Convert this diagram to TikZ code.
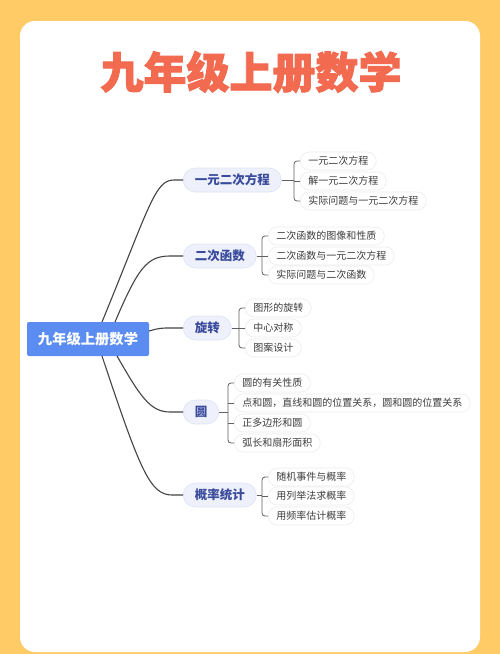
\documentclass[tikz,border=0pt]{standalone}
\usepackage{fontspec}
\newfontfamily\cjk{Noto Sans CJK SC}
\newfontfamily\cjkheavy{Noto Sans CJK SC}[BoldFeatures={FakeBold=2.2}]
\usetikzlibrary{calc}
\definecolor{bgyellow}{HTML}{FFCB66}
\definecolor{titlecoral}{HTML}{F26A4F}
\definecolor{rootblue}{HTML}{5B8CF2}
\definecolor{branchfill}{HTML}{EEF1FB}
\definecolor{branchdraw}{HTML}{DDE3F5}
\definecolor{branchtext}{HTML}{3A4A9C}
\definecolor{leaftext}{HTML}{3C3C3C}
\definecolor{leafdraw}{HTML}{ECECEC}
\definecolor{linegrey}{HTML}{444444}
\begin{document}
\begin{tikzpicture}[x=1pt,y=-1pt,
  rootbox/.style={fill=rootblue, rounded corners=2pt, text=white,
    font=\cjk\bfseries\fontsize{14.3}{16}\selectfont,
    minimum width=122pt, minimum height=34pt, inner sep=0pt},
  branchbox/.style={fill=branchfill, draw=branchdraw, line width=0.6pt,
    rounded corners=12pt, text=branchtext,
    font=\cjk\bfseries\fontsize{12.5}{14}\selectfont,
    minimum height=24pt, inner xsep=11.5pt, inner ysep=0pt, anchor=west},
  leafbox/.style={fill=white, draw=leafdraw, line width=0.6pt,
    rounded corners=9pt, text=leaftext,
    font=\cjk\fontsize{10}{12}\selectfont,
    minimum height=18pt, inner xsep=8pt, inner ysep=0pt, anchor=west},
  conn/.style={draw=linegrey, line width=1.1pt},
  brk/.style={draw=linegrey!85, line width=0.8pt},
  brkr/.style={brk, rounded corners=3pt}]
\useasboundingbox (0,0) rectangle (500,654);
\fill[bgyellow] (0,0) rectangle (500,654);
\fill[white] (20,21) [rounded corners=15pt] rectangle (480,652);

\node[font=\cjkheavy\bfseries\fontsize{43}{48}\selectfont, text=titlecoral] (title) at (251,72) {九年级上册数学};

\node[rootbox] (root) at (88,339) {九年级上册数学};

% branches
\node[branchbox] (b1) at (183,180) {一元二次方程};
\node[branchbox] (b2) at (183,256) {二次函数};
\node[branchbox] (b3) at (183,328) {旋转};
\node[branchbox] (b4) at (183,412) {圆};
\node[branchbox] (b5) at (183,495) {概率统计};

% root connectors
\coordinate (r1) at (102,322);
\coordinate (r2) at (115,322);
\coordinate (r3) at (149,331);
\coordinate (r4) at (117,356);
\coordinate (r5) at (102,356);
\draw[conn] (r1) .. controls (150,205) and (155,180) .. (174,180) -- (b1.west);
\draw[conn] (r2) .. controls (138,268) and (147,256) .. (170,256) -- (b2.west);
\draw[conn] (r3) .. controls (160,328) .. (172,328) -- (b3.west);
\draw[conn] (r4) .. controls (140,396) and (150,412) .. (170,412) -- (b4.west);
\draw[conn] (r5) .. controls (140,470) and (150,495) .. (172,495) -- (b5.west);

% leaves branch 1
\node[leafbox] (l11) at (300,161) {一元二次方程};
\node[leafbox] (l12) at (300,181) {解一元二次方程};
\node[leafbox] (l13) at (300,201) {实际问题与一元二次方程};
\coordinate (k1) at (294,180);
\draw[brk] (b1.east) -- (k1);
\draw[brkr] (l11.west) -- (l11.west -| k1) -- (l13.west -| k1) -- (l13.west);
\draw[brk] (l12.west -| k1) -- (l12.west);

% leaves branch 2
\node[leafbox] (l21) at (268,236) {二次函数的图像和性质};
\node[leafbox] (l22) at (268,256) {二次函数与一元二次方程};
\node[leafbox] (l23) at (268,275) {实际问题与二次函数};
\coordinate (k2) at (262,256);
\draw[brk] (b2.east) -- (k2);
\draw[brkr] (l21.west) -- (l21.west -| k2) -- (l23.west -| k2) -- (l23.west);
\draw[brk] (l22.west -| k2) -- (l22.west);

% leaves branch 3
\node[leafbox] (l31) at (245,308) {图形的旋转};
\node[leafbox] (l32) at (245,328) {中心对称};
\node[leafbox] (l33) at (245,348) {图案设计};
\coordinate (k3) at (239,328);
\draw[brk] (b3.east) -- (k3);
\draw[brkr] (l31.west) -- (l31.west -| k3) -- (l33.west -| k3) -- (l33.west);
\draw[brk] (l32.west -| k3) -- (l32.west);

% leaves branch 4
\node[leafbox] (l41) at (234,383) {圆的有关性质};
\node[leafbox] (l42) at (234,403) {点和圆，直线和圆的位置关系，圆和圆的位置关系};
\node[leafbox] (l43) at (234,423) {正多边形和圆};
\node[leafbox] (l44) at (234,443) {弧长和扇形面积};
\coordinate (k4) at (228,412);
\draw[brk] (b4.east) -- (k4);
\draw[brkr] (l41.west) -- (l41.west -| k4) -- (l44.west -| k4) -- (l44.west);
\draw[brk] (l42.west -| k4) -- (l42.west);
\draw[brk] (l43.west -| k4) -- (l43.west);

% leaves branch 5
\node[leafbox] (l51) at (268,477) {随机事件与概率};
\node[leafbox] (l52) at (268,496) {用列举法求概率};
\node[leafbox] (l53) at (268,516) {用频率估计概率};
\coordinate (k5) at (262,495);
\draw[brk] (b5.east) -- (k5);
\draw[brkr] (l51.west) -- (l51.west -| k5) -- (l53.west -| k5) -- (l53.west);
\draw[brk] (l52.west -| k5) -- (l52.west);
\end{tikzpicture}
\end{document}
